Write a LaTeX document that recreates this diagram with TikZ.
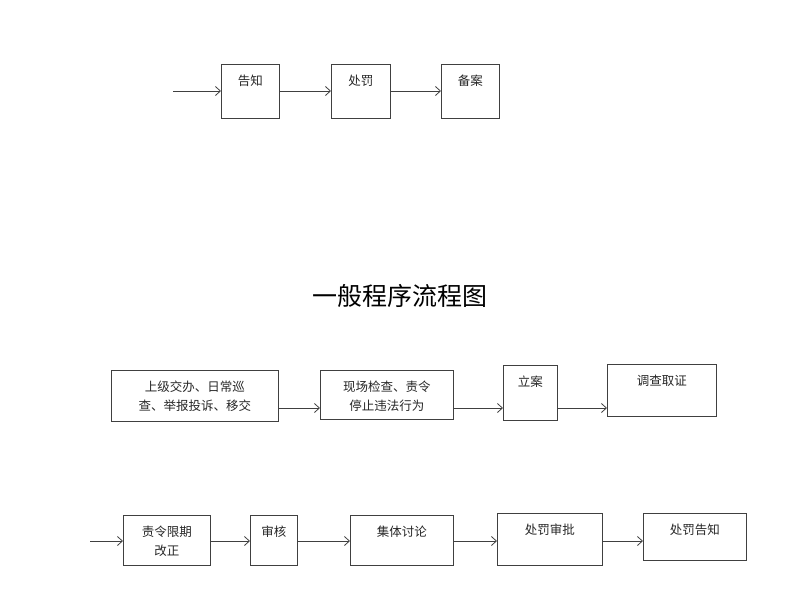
\documentclass[tikz,border=0pt]{standalone}
\usepackage{fontspec}
\newfontfamily\cjk{Noto Sans CJK SC}
\usetikzlibrary{arrows.meta}
\newcommand\bxx[6]{\node[box,minimum width={#4-#2},minimum height={#5-#3}] (#1) at (#2,#3) {};
 \begin{scope}\clip (#1.north west) rectangle (#1.south east);
 \node[txt,anchor=north,yshift=-7pt] at (#1.north) {#6};\end{scope}}
\begin{document}
\begin{tikzpicture}[x=1pt,y=-1pt,
 box/.style={draw=black!75,line width=0.8pt,rectangle,inner sep=0,anchor=north west},
 txt/.style={font=\cjk\fontsize{12.5}{19}\selectfont,align=center,text=black!85},
 arr/.style={draw=black!75,line width=0.8pt,-{Straight Barb[length=5pt,width=9pt]}}]
\useasboundingbox (0,0) rectangle (800,600);
% top row
\bxx{a1}{221}{64}{279}{118}{告知}
\bxx{a2}{331}{64}{390}{118}{处罚}
\bxx{a3}{441}{64}{499}{118}{备案}
\coordinate (r1) at (0,91);
\coordinate (s1) at (173,91);
\draw[arr] (s1) -- (a1.west|-r1);
\draw[arr] (a1.east|-r1) -- (a2.west|-r1);
\draw[arr] (a2.east|-r1) -- (a3.west|-r1);
% title
\node[font=\cjk\fontsize{25}{30}\selectfont] (t) at (400,296) {一般程序流程图};
% row 2
\bxx{b1}{111}{370}{278}{421}{上级交办、日常巡\\查、举报投诉、移交\\}
\bxx{b2}{320}{370}{453}{419}{现场检查、责令\\停止违法行为}
\bxx{b3}{503}{365}{557}{420}{立案}
\bxx{b4}{607}{364}{716}{416}{调查取证}
\coordinate (r2) at (0,408);
\draw[arr] (b1.east|-r2) -- (b2.west|-r2);
\draw[arr] (b2.east|-r2) -- (b3.west|-r2);
\draw[arr] (b3.east|-r2) -- (b4.west|-r2);
% row 3
\bxx{c1}{123}{515}{210}{565}{责令限期\\改正}
\bxx{c2}{250}{515}{297}{565}{审核}
\bxx{c3}{350}{515}{453}{565}{集体讨论}
\bxx{c4}{497}{513}{602}{565}{处罚审批}
\bxx{c5}{643}{513}{746}{560}{处罚告知}
\coordinate (r3) at (0,541);
\coordinate (s3) at (90,541);
\draw[arr] (s3) -- (c1.west|-r3);
\draw[arr] (c1.east|-r3) -- (c2.west|-r3);
\draw[arr] (c2.east|-r3) -- (c3.west|-r3);
\draw[arr] (c3.east|-r3) -- (c4.west|-r3);
\draw[arr] (c4.east|-r3) -- (c5.west|-r3);
\end{tikzpicture}
\end{document}
